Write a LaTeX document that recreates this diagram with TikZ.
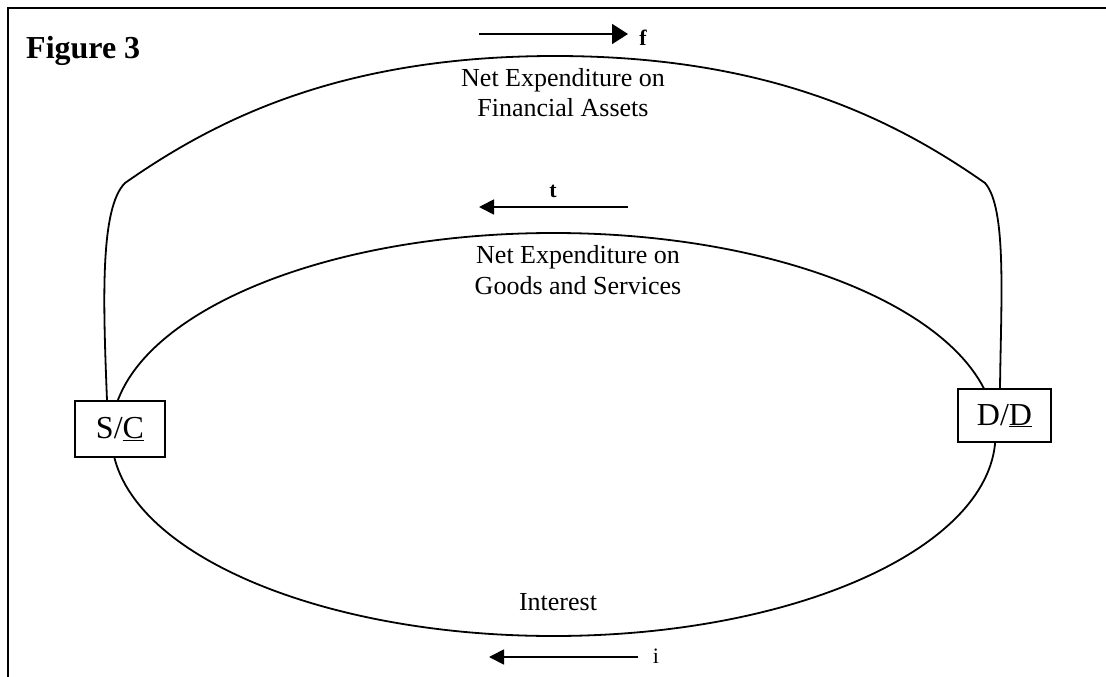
\documentclass[tikz,border=0pt]{standalone}
\usepackage{fontspec}
\setmainfont{Liberation Serif}
\usetikzlibrary{arrows.meta,calc}
\begin{document}
\begin{tikzpicture}[x=1pt,y=-1pt,
  flow/.style={line width=1.8pt},
  box/.style={draw,line width=1.5pt,fill=white,inner sep=0pt,font=\fontsize{32}{36}\selectfont},
  txt/.style={font=\fontsize{26}{30}\selectfont,anchor=base,inner sep=0pt},
  lbl/.style={font=\fontsize{22}{26}\selectfont,anchor=base,inner sep=0pt},
  arr/.style={line width=1.8pt,-{Triangle[length=15pt,width=15pt]}}]
\useasboundingbox (0,0) rectangle (1106,677);
% frame
\draw[line width=2pt] (8,677) -- (8,8) -- (1106,8);
\node[font=\fontsize{32}{36}\selectfont\bfseries,anchor=base west,inner sep=0pt] (title) at (26,59) {Figure 3};
% inner loop (goods and services / interest)
\draw[flow] (553.5,434.5) ellipse [x radius=442, y radius=201.5];
% boxes
\node[box,minimum width=90pt,minimum height=56pt] (sc) at (120,429) {S/\underline{C}};
\node[box,minimum width=93pt,minimum height=53pt] (dd) at (1004.5,415.5) {D/\underline{D}};
% outer loop (financial assets)
\draw[flow] ([xshift=-13pt]sc.north) .. controls (103,300) and (100,208) .. (125,183)
  .. controls (215,120) and (340,56) .. (555,56)
  .. controls (770,56) and (895,120) .. (985,183)
  .. controls (1007,208) and (1001,300) .. ([xshift=-4.5pt]dd.north);
% texts
\node[txt] (fa1) at (563,87) {Net Expenditure on};
\node[txt] (fa2) at (563,117) {Financial Assets};
\node[txt] (gs1) at (578,263) {Net Expenditure on};
\node[txt] (gs2) at (578,294) {Goods and Services};
\node[txt] (int) at (558,610) {Interest};
% flow arrows
\coordinate (fs) at (479,34); \coordinate (fe) at (628,34);
\coordinate (ts) at (628,207); \coordinate (te) at (479,207);
\coordinate (is) at (638,657); \coordinate (ie) at (489,657);
\draw[arr,-{Triangle[length=16pt,width=20pt]}] (fs) -- (fe);
\draw[arr] (ts) -- (te);
\draw[arr] (is) -- (ie);
\node[lbl,font=\fontsize{22}{26}\selectfont\bfseries] (f) at (643,46) {f};
\node[lbl,font=\fontsize{22}{26}\selectfont\bfseries] (t) at (553,197) {t};
\node[lbl] (i) at (656,663) {i};
\end{tikzpicture}
\end{document}
